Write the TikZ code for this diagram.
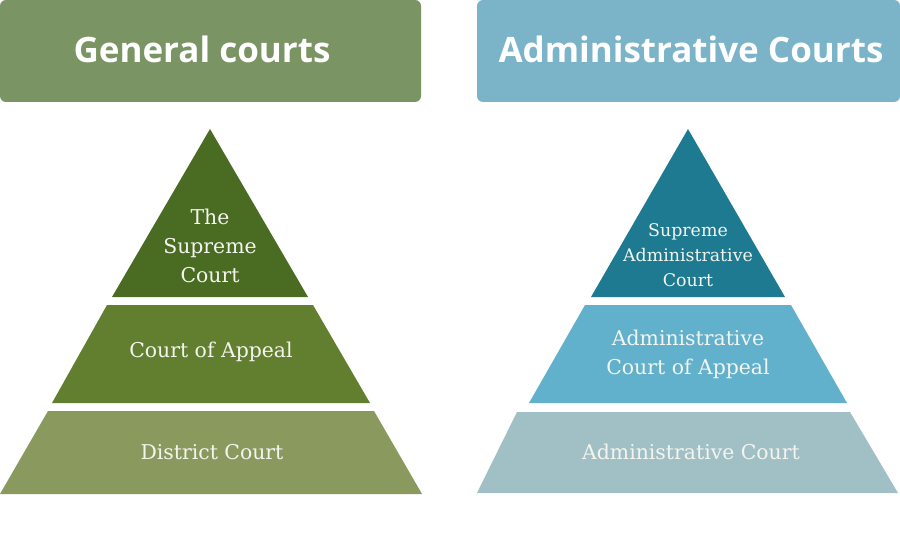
\documentclass[tikz,border=0pt]{standalone}
\usepackage{fontspec}
\setmainfont{DejaVu Serif}
\newfontfamily\headfont{Open Sans}
\definecolor{ghead}{HTML}{7A9563}
\definecolor{bhead}{HTML}{7BB4C8}
\definecolor{gtop}{HTML}{4A6B22}
\definecolor{gmid}{HTML}{627F30}
\definecolor{gbot}{HTML}{8A9A5E}
\definecolor{btop}{HTML}{1E7A91}
\definecolor{bmid}{HTML}{62B1CC}
\definecolor{bbot}{HTML}{A1C0C6}
\definecolor{ltext}{HTML}{F4F4EE}
\begin{document}
\begin{tikzpicture}[x=1pt,y=-1pt,
  header/.style={rounded corners=6pt},
  headtext/.style={text=white,font=\headfont\bfseries\fontsize{35}{40}\selectfont,inner sep=0pt},
  lvltext/.style={text=ltext,align=center,inner sep=0pt,font=\fontsize{20.4}{29}\selectfont},
  smalltext/.style={text=ltext,align=center,inner sep=0pt,font=\fontsize{17.4}{25}\selectfont}]
\useasboundingbox[fill=white] (0,0) rectangle (900,540);
% headers
\fill[ghead,header] (0,0) rectangle (421,102);
\fill[bhead,header] (477,0) rectangle (900,102);
\node[headtext] (hg) at (202,49) {General courts};
\node[headtext] (hb) at (691,49) {Administrative Courts};
% left pyramid
\fill[gtop] (210,129) -- (308,297) -- (112,297) -- cycle;
\fill[gmid] (107,305) -- (313,305) -- (370,403) -- (52,403) -- cycle;
\fill[gbot] (48,411) -- (374,411) -- (422,494) -- (0,494) -- cycle;
\node[lvltext] (g1) at (210,246) {The\\Supreme\\Court};
\node[lvltext] (g2) at (211,352) {Court of Appeal};
\node[lvltext] (g3) at (212,452) {District Court};
% right pyramid
\fill[btop] (688,129) -- (785,297) -- (591,297) -- cycle;
\fill[bmid] (585,305) -- (791,305) -- (847,403) -- (529,403) -- cycle;
\fill[bbot] (517,412) -- (850,412) -- (898,493) -- (477,493) -- cycle;
\node[smalltext] (b1) at (688,255) {Supreme\\Administrative\\Court};
\node[lvltext] (b2) at (688,354) {Administrative\\Court of Appeal};
\node[lvltext] (b3) at (691,452) {Administrative Court};
\end{tikzpicture}
\end{document}
